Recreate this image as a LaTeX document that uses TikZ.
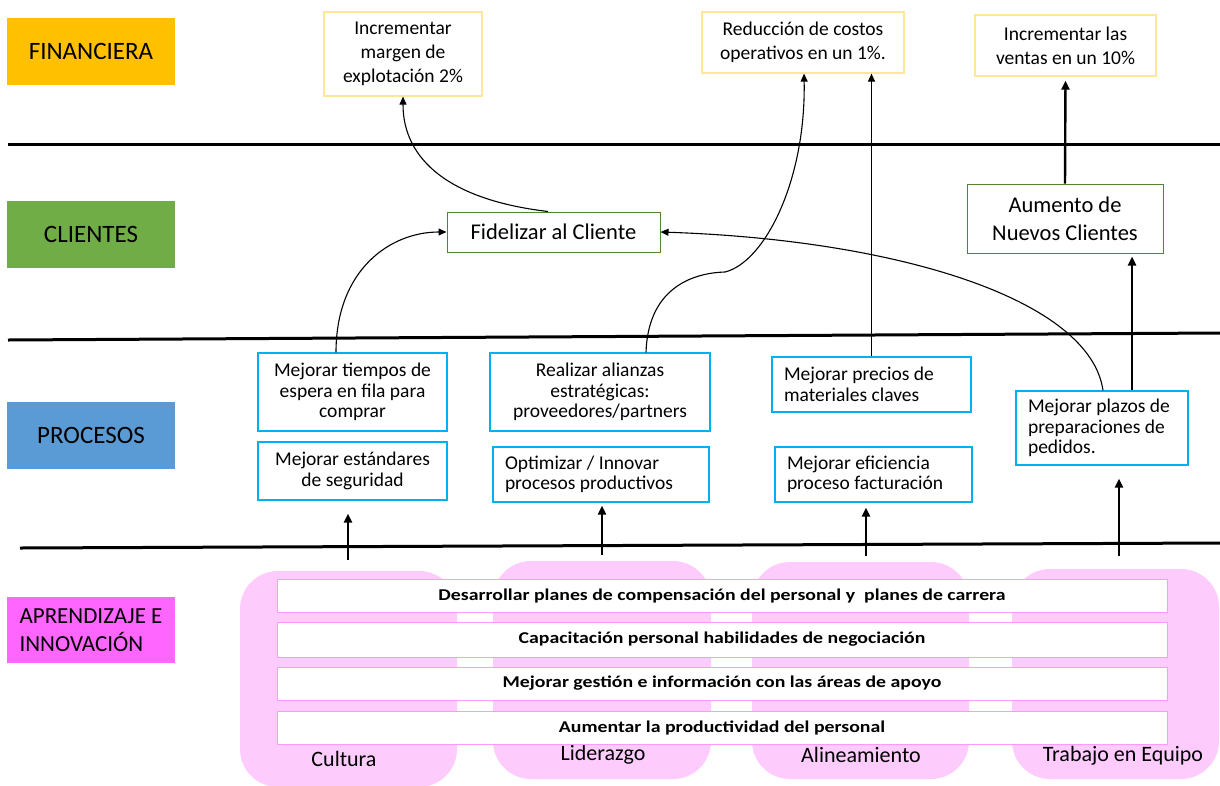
\documentclass[tikz,border=0pt]{standalone}
\usepackage{fontspec}
\setmainfont{Carlito}
\newfontfamily\barfont{Carlito}[FakeStretch=1.2]
\usetikzlibrary{arrows.meta}

\definecolor{finOrange}{RGB}{255,192,0}
\definecolor{cliGreen}{RGB}{112,173,71}
\definecolor{proBlue}{RGB}{91,155,213}
\definecolor{aprMagenta}{RGB}{255,102,255}
\definecolor{finBorder}{RGB}{255,230,153}
\definecolor{cliBorder}{RGB}{84,130,53}
\definecolor{proBorder}{RGB}{0,176,240}
\definecolor{blobPink}{RGB}{253,204,253}
\definecolor{barBorder}{RGB}{255,153,255}

\newcommand\fsz[2]{\fontsize{#1}{#2}\selectfont}

\tikzset{
  perspective/.style={fill=#1, minimum width=168pt, minimum height=67pt,
    inner sep=0pt, align=center, font=\fsz{25}{30}},
  finbox/.style={draw=finBorder, line width=1.2pt, inner sep=0pt,
    align=center, font=\fsz{19.5}{24}},
  clibox/.style={draw=cliBorder, line width=1pt, inner sep=0pt,
    align=center, font=\fsz{22.5}{28}},
  probox/.style={draw=proBorder, line width=1.2pt, inner sep=0pt,
    align=center, font=\fsz{19.5}{20.5}},
  leftbox/.style={draw=proBorder, line width=1.2pt, inner ysep=0pt,
    inner xsep=12pt, text width=#1, align=flush left, font=\fsz{19.5}{20.5}},
  blob/.style={fill=blobPink, rounded corners=38pt},
  bar/.style={draw=barBorder, fill=white, line width=1pt, minimum width=890pt,
    inner sep=0pt, font=\barfont\fsz{16.5}{19}\bfseries},
  pillar/.style={font=\fsz{22}{26}},
  band/.style={line width=3pt},
  link/.style={-{Triangle[length=8pt,width=7pt]}, line width=1.1pt},
  strong link/.style={-{Triangle[length=9pt,width=8pt]}, line width=2.4pt},
}

\begin{document}
\begin{tikzpicture}[x=1pt, y=-1pt]
\useasboundingbox[fill=white] (0,0) rectangle (1220,785);

% perspective labels
\node[perspective=finOrange] (pfin) at (91,51) {FINANCIERA};
\node[perspective=cliGreen] (pcli) at (91,234.5) {CLIENTES};
\node[perspective=proBlue] (ppro) at (91,435.5) {PROCESOS};
\node[perspective=aprMagenta, minimum height=66pt, align=left, font=\fsz{23}{28}] (papr) at (91,630)
  {APRENDIZAJE E\\INNOVACIÓN};

% separating bands
\draw[band] (8,144) -- (1220,144);
\draw[band] (8,340) -- (1220,333);
\draw[band] (20,548) -- (1220,543);

% financial objectives
\node[finbox, minimum width=158pt, minimum height=84pt] (mar) at (403,54)
  {Incrementar\\margen de\\explotación 2\%};
\node[finbox, minimum width=202pt, minimum height=61pt] (red) at (803,42.5)
  {Reducción de costos\\operativos en un 1\%.};
\node[finbox, minimum width=181pt, minimum height=61pt] (ven) at (1065.5,45.5)
  {Incrementar las\\ventas en un 10\%};

% customer objectives
\node[clibox, minimum width=213pt, minimum height=40pt] (fid) at (553.5,232)
  {Fidelizar al Cliente};
\node[clibox, minimum width=196pt, minimum height=69pt] (aum) at (1065,218.5)
  {Aumento de\\Nuevos Clientes};

% process objectives
\node[probox, minimum width=189pt, minimum height=78pt] (tie) at (352.5,392)
  {Mejorar tiempos de\\espera en fila para\\comprar};
\node[probox, minimum width=189pt, minimum height=58pt] (est) at (352.5,471)
  {Mejorar estándares\\de seguridad};
\node[probox, minimum width=220pt, minimum height=78pt] (ali) at (600,392)
  {Realizar alianzas\\estratégicas:\\proveedores/partners};
\node[leftbox=192pt, minimum height=55pt] (opt) at (601,474.5)
  {Optimizar / Innovar\\procesos productivos};
\node[leftbox=175pt, minimum height=55pt] (pre) at (871.5,384.5)
  {Mejorar precios de\\materiales claves};
\node[leftbox=173pt, minimum height=55pt] (efi) at (873.5,474.5)
  {Mejorar eficiencia\\proceso facturación};
\node[leftbox=148pt, minimum height=74pt] (pla) at (1102,428)
  {Mejorar plazos de\\preparaciones de\\pedidos.};

% learning pillars
\fill[blob] (240,571) rectangle (457,787);
\fill[blob] (493,561) rectangle (711,779);
\fill[blob] (752,562) rectangle (969,779);
\fill[blob] (1012,569) rectangle (1219,779);
\node[pillar] (cul) at (344,759) {Cultura};
\node[pillar] (lid) at (603,755) {Liderazgo};
\node[pillar] (aln) at (861,755) {Alineamiento};
\node[pillar] (tra) at (1123,756) {Trabajo en Equipo};

% learning objectives
\node[bar, minimum height=33pt] (b1) at (722,596)
  {Desarrollar planes de compensación del personal y\ \ planes de carrera};
\node[bar, minimum height=35pt] (b2) at (722,639.5)
  {Capacitación personal habilidades de negociación};
\node[bar, minimum height=33pt] (b3) at (722,683.5)
  {Mejorar gestión e información con las áreas de apoyo};
\node[bar, minimum height=33pt] (b4) at (722,727.5)
  {Aumentar la productividad del personal};

% links between objectives
\draw[link] ([xshift=-5.5pt]fid.north) .. controls (450,200) and (403,160) .. (mar.south);
\draw[link] ([xshift=-16.5pt]tie.north) .. controls (336,270) and (390,232) .. (fid.west);
\draw[link] ([xshift=46pt]ali.north) .. controls (648,290) and (690,273) .. (725,272)
  .. controls (765,262) and (806,180) .. ([xshift=1pt]red.south);
\draw[link] (pre.north) -- (pre.north |- red.south);
\draw[link] ([xshift=1pt]pla.north) .. controls (1090,300) and (900,240) .. (fid.east);
\draw[strong link, shorten >=4pt] (aum.north) -- (ven.south);
\draw[strong link, shorten >=3pt] ([xshift=30pt]pla.north) -- ([xshift=30pt]pla.north |- aum.south);

% links from the learning layer
\coordinate (s1) at (348,560);
\coordinate (s2) at (602,555);
\coordinate (s3) at (866,556);
\coordinate (s4) at (1119,556);
\draw[strong link, shorten >=13pt] (s1) -- (s1 |- est.south);
\draw[strong link, shorten >=3pt] (s2) -- (s2 |- opt.south);
\draw[strong link, shorten >=5pt] (s3) -- (s3 |- efi.south);
\draw[strong link, shorten >=13pt] (s4) -- (s4 |- pla.south);
\end{tikzpicture}
\end{document}
